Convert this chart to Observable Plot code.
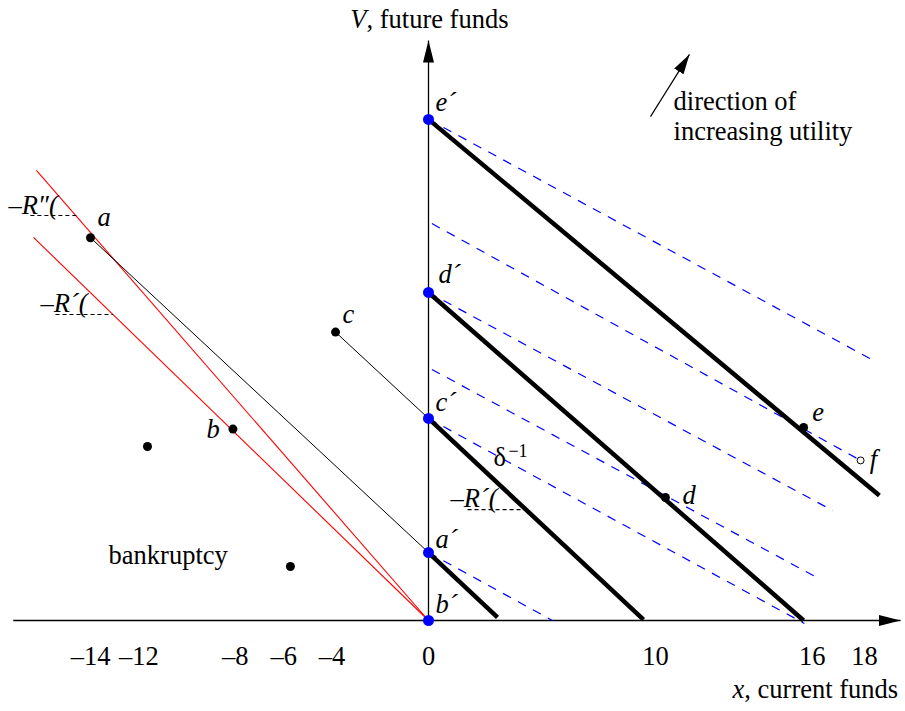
<!DOCTYPE html>
<html>
<head>
<meta charset="utf-8">
<script src="https://cdn.jsdelivr.net/npm/d3@7"></script>
<script src="https://cdn.jsdelivr.net/npm/@observablehq/plot@0.6"></script>
<style>
  html, body { margin: 0; padding: 0; background: #fff; }
</style>
</head>
<body>
<div id="chart"></div>
<script>
// ---------- data (x = current funds, v = future funds) ----------
const xTicks = [-14, -12, -8, -6, -4, 0, 10, 16, 18];

// black consumption points a, b, c, two unlabeled, d, e
const blackPoints = [
  {x: -14, v: 16.5}, {x: -8.1, v: 8.25}, {x: -3.85, v: 12.43},
  {x: -11.64, v: 7.5}, {x: -5.72, v: 2.33},
  {x: 10.38, v: 5.3}, {x: 15.67, v: 8.32}
];
// open point f
const openPoints = [{x: 17.85, v: 6.9}];
// intercepts on the V axis: a′, b′, c′, d′, e′
const intercepts = [
  {x: 0, v: 2.93}, {x: 0, v: 0}, {x: 0, v: 8.71}, {x: 0, v: 14.14}, {x: 0, v: 21.6}
];
// thick budget lines (slope −R′)
const budgetLines = [
  {x1: 0, v1: 2.93, x2: 3.04, v2: 0.13},
  {x1: 0, v1: 8.71, x2: 9.47, v2: 0.04},
  {x1: 0, v1: 14.14, x2: 15.67, v2: 0},
  {x1: 0, v1: 21.6, x2: 18.57, v2: 5.39}
];
// thin borrowing lines a → a′, c → c′
const borrowLines = [
  {x1: -14, v1: 16.5, x2: 0, v2: 2.93},
  {x1: -3.85, v1: 12.43, x2: 0, v2: 8.71}
];
// red bankruptcy boundary lines through the origin
const boundaryLines = [
  {x1: 0, v1: 0, x2: -16.24, v2: 19.4},
  {x1: 0, v1: 0, x2: -16.36, v2: 16.51}
];
// blue dashed indifference lines (slope δ⁻¹)
const indifferenceLines = [
  {x1: 0, v1: 21.6, x2: 18.34, v2: 11.21},
  {x1: 0.15, v1: 17.11, x2: 17.85, v2: 6.9},
  {x1: 0, v1: 14.14, x2: 16.78, v2: 4.74},
  {x1: 0.15, v1: 10.82, x2: 16.25, v2: 1.81},
  {x1: 0, v1: 8.71, x2: 15.7, v2: -0.13},
  {x1: 0, v1: 2.93, x2: 5.46, v2: 0}
];
// short dashed horizontal references for the slope angles
const angleRefs = [
  {x1: -16.49, v1: 17.46, x2: -14.55, v2: 17.46},
  {x1: -15.45, v1: 13.19, x2: -13.07, v2: 13.19},
  {x1: 1.72, v1: 4.78, x2: 4.28, v2: 4.78}
];
// axes with arrowheads, and the "direction of increasing utility" arrow
const axisArrows = [
  {x1: -17.2, v1: 0, x2: 19.38, v2: 0},
  {x1: 0, v1: 0, x2: 0, v2: 25}
];
const utilityArrow = [{x1: 9.78, v1: 21.72, x2: 11.3, v2: 24.4}];

// labels
const pointLabels = [
  {t: "a", x: -13.71, v: 17.38}, {t: "b", x: -9.2, v: 8.25}, {t: "c", x: -3.56, v: 13.2},
  {t: "d", x: 11.03, v: 5.4}, {t: "e", x: 16.0, v: 8.98}, {t: "f", x: 18.2, v: 6.94},
  {t: "a\u00B4", x: 0.31, v: 3.5}, {t: "b\u00B4", x: 0.31, v: 0.7},
  {t: "c\u00B4", x: 0.31, v: 9.41}, {t: "d\u00B4", x: 0.44, v: 14.93},
  {t: "e\u00B4", x: 0.31, v: 22.34}
];
const slopeLabels = [
  {t: "\u2013R\u2033(", x: -17.4, v: 17.9},
  {t: "\u2013R\u00B4(", x: -16.07, v: 13.68},
  {t: "\u2013R\u00B4(", x: 0.97, v: 5.27}
];
const plainLabels = [
  {t: "bankruptcy", x: -13.25, v: 2.81}
];
const utilityNote = [{t: "direction of\nincreasing utility", x: 10.69, v: 21.78}];
const deltaLabel = [{t: "\u03B4", x: 2.86, v: 7.04}];
const deltaExp = [{t: "\u22121", x: 3.52, v: 7.3}];
const yTitleItalic = [{t: "V", x: -2.57, v: 25.92}];
const yTitleRest = [{t: ", future funds", x: -2.57, v: 25.92}];
const xTitleItalic = [{t: "x", x: 13.4, v: -2.96}];
const xTitleRest = [{t: ", current funds", x: 13.4, v: -2.96}];

// ---------- chart ----------
const serif = "'Liberation Serif', 'DejaVu Serif', 'Noto Serif', Times, serif";
const seg = {x1: "x1", y1: "v1", x2: "x2", y2: "v2"};
const fmt = d => d < 0 ? "\u2013" + Math.abs(d) : String(d);
const txt = (data, extra) => Plot.text(data, {x: "x", y: "v", text: "t", textAnchor: "start", ...extra});
const AXIS_INK = "#010101";     // tags for the arrowhead post-processing
const UTIL_INK = "#020202";

const chart = Plot.plot({
  width: 905,
  height: 711,
  marginTop: 40,
  marginBottom: 91,
  marginLeft: 0,
  marginRight: 0,
  style: {background: "#fff", color: "#000", fontSize: "26.5px"},
  x: {type: "linear", domain: [-14, 0, 10, 18], range: [90, 428, 655, 864]},
  y: {type: "linear", domain: [0, 25], range: [620, 40], axis: null},
  marks: [
    Plot.axisX({ticks: xTicks, tickSize: 0, tickPadding: 26, tickFormat: fmt, label: null, fontSize: 26.5}),
    Plot.link(axisArrows, {...seg, stroke: AXIS_INK, strokeWidth: 1.3}),
    Plot.link(utilityArrow, {...seg, stroke: UTIL_INK, strokeWidth: 1.2}),
    Plot.link(boundaryLines, {...seg, stroke: "#ff0000", strokeWidth: 1.1}),
    Plot.link(indifferenceLines, {...seg, stroke: "#0000ff", strokeWidth: 1.2, strokeDasharray: "9,8"}),
    Plot.link(angleRefs, {...seg, stroke: "#000", strokeWidth: 1.1, strokeDasharray: "4,3"}),
    Plot.link(borrowLines, {...seg, stroke: "#000", strokeWidth: 1}),
    Plot.link(budgetLines, {...seg, stroke: "#000", strokeWidth: 4.5, strokeLinecap: "butt"}),
    Plot.dot(blackPoints, {x: "x", y: "v", r: 4.5, fill: "#000"}),
    Plot.dot(openPoints, {x: "x", y: "v", r: 3.5, fill: "#fff", stroke: "#000", strokeWidth: 1}),
    Plot.dot(intercepts, {x: "x", y: "v", r: 5.5, fill: "#0000ff"}),
    txt(pointLabels, {fontStyle: "italic"}),
    txt(slopeLabels, {fontStyle: "italic"}),
    txt(plainLabels, {}),
    txt(utilityNote, {lineHeight: 1.15}),
    txt(deltaLabel, {}),
    txt(deltaExp, {fontSize: 18}),
    txt(yTitleItalic, {textAnchor: "end", fontStyle: "italic"}),
    txt(yTitleRest, {}),
    txt(xTitleItalic, {textAnchor: "end", fontStyle: "italic"}),
    txt(xTitleRest, {})
  ]
});

// filled arrowheads
const svg = d3.select(chart);
const defs = svg.insert("defs", ":first-child");
function addHead(id, len, wid) {
  defs.append("marker")
    .attr("id", id)
    .attr("viewBox", `0 0 ${len} ${wid}`)
    .attr("refX", len).attr("refY", wid / 2)
    .attr("markerWidth", len).attr("markerHeight", wid)
    .attr("markerUnits", "userSpaceOnUse")
    .attr("orient", "auto")
    .append("path").attr("d", `M0,0L${len},${wid / 2}L0,${wid}Z`).attr("fill", "#000");
}
addHead("headBig", 22, 11);
addHead("headSmall", 20, 11);
svg.selectAll("path").each(function () {
  const own = this.getAttribute("stroke");
  const parent = this.parentNode && this.parentNode.getAttribute && this.parentNode.getAttribute("stroke");
  const s = (own || parent || "").toLowerCase();
  if (s === AXIS_INK) this.setAttribute("marker-end", "url(#headBig)");
  if (s === UTIL_INK) this.setAttribute("marker-end", "url(#headSmall)");
});
// serif face for every text
chart.style.fontFamily = serif;
svg.selectAll("text, g").each(function () { this.style.fontFamily = serif; });

document.getElementById("chart").appendChild(chart);
</script>
</body>
</html>
